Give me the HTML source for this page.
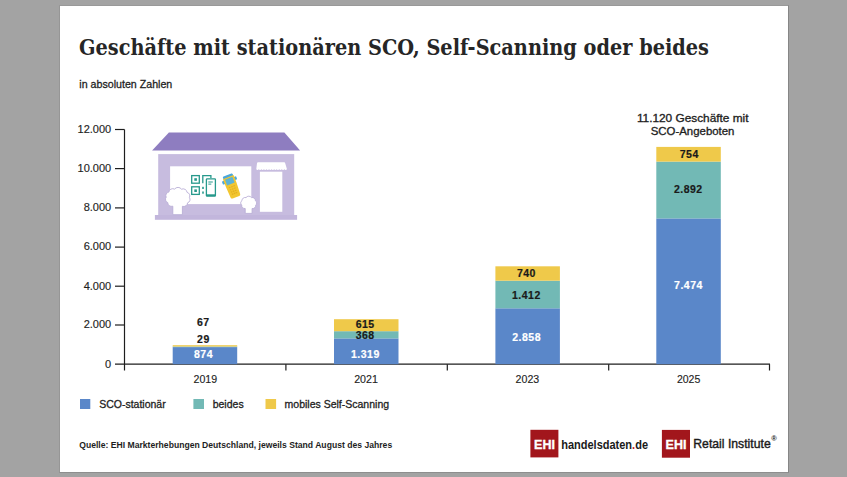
<!DOCTYPE html>
<html lang="de">
<head>
<meta charset="utf-8">
<title>Geschäfte mit stationären SCO, Self-Scanning oder beides</title>
<style>
html,body{margin:0;padding:0;background:#a3a3a3;}
body{width:847px;height:477px;overflow:hidden;background:#a3a3a3;position:relative;}
#panel{position:absolute;left:59px;top:5px;width:728px;height:466px;background:#fff;border:1px solid #868686;border-top-color:#999;border-left-color:#969696;border-bottom-color:#8e8e8e;}
svg{position:absolute;left:0;top:0;}
.sans{font-family:"Liberation Sans",Arial,sans-serif;}
.serif{font-family:"DejaVu Serif","Liberation Serif",serif;}
</style>
</head>
<body>
<div id="panel"></div>
<svg width="847" height="477" viewBox="0 0 847 477">
  <!-- Title -->
  <text class="serif" x="79" y="54.6" font-size="21.5" font-weight="bold" fill="#262626" textLength="630" lengthAdjust="spacingAndGlyphs">Geschäfte mit stationären SCO, Self-Scanning oder beides</text>
  <text class="sans" x="79.3" y="88.4" font-size="11.5" fill="#1e1e1e" stroke="#1e1e1e" stroke-width="0.3" textLength="93" lengthAdjust="spacingAndGlyphs">in absoluten Zahlen</text>

  <!-- House illustration -->
  <g id="house">
    <polygon points="168.9,132.5 284.4,132.5 300.1,150.4 152.1,150.4" fill="#8e7dc0"/>
    <rect x="158.2" y="154.1" width="136" height="62" fill="#c7bcdf"/>
    <rect x="154.9" y="215" width="142.2" height="4.8" fill="#c2b6dc"/>
    <rect x="170.1" y="166.3" width="81.2" height="37.8" fill="#ffffff"/>
    <!-- door + awning -->
    <rect x="259.9" y="171.7" width="22.4" height="40.1" fill="#ffffff"/>
    <path d="M258,162.2 L284.2,162.2 Q285,162.3 285.2,163.2 L286.9,169 A1.3,1.3 0 0 1 284.35,169 A1.3,1.3 0 0 1 281.80,169 A1.3,1.3 0 0 1 279.25,169 A1.3,1.3 0 0 1 276.70,169 A1.3,1.3 0 0 1 274.15,169 A1.3,1.3 0 0 1 271.60,169 A1.3,1.3 0 0 1 269.05,169 A1.3,1.3 0 0 1 266.50,169 A1.3,1.3 0 0 1 263.95,169 A1.3,1.3 0 0 1 261.40,169 A1.3,1.3 0 0 1 258.85,169 A1.3,1.3 0 0 1 256.30,169 L257,163.2 Q257.2,162.3 258,162.2 Z" fill="#ffffff"/>
    <!-- bushes -->
    <g fill="#ffffff" stroke="#b9aed6" stroke-width="0.9" stroke-linejoin="round">
      <path d="M182.4,214.7 L182.4,206.3 A3.92,3.92 0 0 0 187.6,202.8 A3.45,3.45 0 0 0 189.4,197.5 A3.50,3.50 0 0 0 187.1,192.4 A4.00,4.00 0 0 0 181.5,189.2 A4.27,4.27 0 0 0 174.6,189.1 A4.03,4.03 0 0 0 168.8,192.1 A3.53,3.53 0 0 0 166.2,197.2 A3.44,3.44 0 0 0 167.7,202.5 A3.89,3.89 0 0 0 172.8,206.2 L172.8,214.7 Z"/>
      <path d="M252.1,213.4 L252.1,208.5 A3.05,3.05 0 0 0 255.7,205.2 A2.76,2.76 0 0 0 255.4,200.7 A3.11,3.11 0 0 0 251.5,197.6 A3.40,3.40 0 0 0 246.0,197.6 A3.12,3.12 0 0 0 242.0,200.6 A2.76,2.76 0 0 0 241.7,205.1 A3.04,3.04 0 0 0 245.2,208.5 L245.2,213.4 Z"/>
    </g>
    <!-- QR icon -->
    <g fill="none" stroke="#27998c" stroke-width="1.3">
      <rect x="191.7" y="175.6" width="7.6" height="7.6"/>
      <rect x="191.7" y="186.8" width="7.6" height="7.6"/>
      <path d="M202.8,183.2 L202.8,175.6 L210.9,175.6 L210.9,178"/>
      <rect x="206.4" y="178.8" width="9" height="17.3" rx="0.7" fill="#fff"/>
    </g>
    <g fill="#27998c">
      <rect x="194.3" y="178.2" width="2.6" height="2.6"/>
      <rect x="194.3" y="189.4" width="2.6" height="2.6"/>
      <rect x="202.2" y="186.8" width="1.6" height="2.2"/>
      <rect x="202.2" y="191.5" width="1.6" height="2.2"/>
      <rect x="208.3" y="181.5" width="4.5" height="1"/>
      <rect x="208.3" y="183.6" width="3" height="1"/>
      <rect x="206.4" y="194.3" width="9" height="1.8"/>
    </g>
    <!-- handheld scanner -->
    <g transform="translate(231.7,186.1) rotate(-21)">
      <rect x="-7.6" y="-7.8" width="15.2" height="3.4" rx="0.8" fill="#4aa6dc"/>
      <rect x="-5.2" y="-11.9" width="10.4" height="3" rx="1" fill="#4aa6dc"/>
      <path d="M-5.7,-9.6 L5.7,-9.6 L5.7,-1 L5.1,10.4 Q5,11.9 3.5,11.9 L-3.5,11.9 Q-5,11.9 -5.1,10.4 L-5.7,-1 Z" fill="#f2c630"/>
      <rect x="-4" y="-8.4" width="8" height="6.2" fill="#5fb3d3"/>
      <g fill="#e3b021">
        <rect x="-3.2" y="0" width="1.6" height="1.2"/><rect x="-0.8" y="0" width="1.6" height="1.2"/><rect x="1.6" y="0" width="1.6" height="1.2"/>
        <rect x="-3.1" y="2.4" width="1.6" height="1.2"/><rect x="-0.8" y="2.4" width="1.6" height="1.2"/><rect x="1.5" y="2.4" width="1.6" height="1.2"/>
        <rect x="-3" y="4.8" width="1.6" height="1.2"/><rect x="-0.8" y="4.8" width="1.6" height="1.2"/><rect x="1.4" y="4.8" width="1.6" height="1.2"/>
        <rect x="-2.9" y="7.2" width="1.6" height="1.2"/><rect x="-0.8" y="7.2" width="1.6" height="1.2"/><rect x="1.3" y="7.2" width="1.6" height="1.2"/>
      </g>
    </g>
  </g>

  <!-- Axes -->
  <g stroke="#1e1e1e" stroke-width="1.2" fill="none">
    <line x1="124.5" y1="129.5" x2="124.5" y2="370.5"/>
    <line x1="115" y1="364.2" x2="770" y2="364.2"/>
    <line x1="115" y1="129.5" x2="124.5" y2="129.5"/>
    <line x1="115" y1="168.6" x2="124.5" y2="168.6"/>
    <line x1="115" y1="207.9" x2="124.5" y2="207.9"/>
    <line x1="115" y1="247.1" x2="124.5" y2="247.1"/>
    <line x1="115" y1="286.2" x2="124.5" y2="286.2"/>
    <line x1="115" y1="325.0" x2="124.5" y2="325.0"/>
    <line x1="285.9" y1="364.2" x2="285.9" y2="370.5"/>
    <line x1="447.3" y1="364.2" x2="447.3" y2="370.5"/>
    <line x1="608.7" y1="364.2" x2="608.7" y2="370.5"/>
    <line x1="769.5" y1="364.2" x2="769.5" y2="370.5"/>
  </g>
  <g class="sans" font-size="11" fill="#1e1e1e" stroke="#1e1e1e" stroke-width="0.15" text-anchor="end">
    <text x="111.2" y="132.9">12.000</text>
    <text x="111.2" y="172.0">10.000</text>
    <text x="111.2" y="211.1">8.000</text>
    <text x="111.2" y="250.4">6.000</text>
    <text x="111.2" y="289.5">4.000</text>
    <text x="111.2" y="328.4">2.000</text>
    <text x="111.2" y="367.6">0</text>
  </g>

  <!-- Bars -->
  <g>
    <rect x="172.7" y="347.1" width="64.5" height="17.1" fill="#5a87c9"/>
    <rect x="172.7" y="346.5" width="64.5" height="0.6" fill="#72b9b5"/>
    <rect x="172.7" y="345.2" width="64.5" height="1.3" fill="#efc94a"/>

    <rect x="334" y="338.4" width="64.5" height="25.8" fill="#5a87c9"/>
    <rect x="334" y="331.2" width="64.5" height="7.2" fill="#72b9b5"/>
    <rect x="334" y="319.2" width="64.5" height="12" fill="#efc94a"/>

    <rect x="495.4" y="308.3" width="64.5" height="55.9" fill="#5a87c9"/>
    <rect x="495.4" y="280.7" width="64.5" height="27.6" fill="#72b9b5"/>
    <rect x="495.4" y="266.3" width="64.5" height="14.4" fill="#efc94a"/>

    <rect x="656.3" y="218.4" width="64.5" height="145.8" fill="#5a87c9"/>
    <rect x="656.3" y="161.6" width="64.5" height="56.8" fill="#72b9b5"/>
    <rect x="656.3" y="146.9" width="64.5" height="14.7" fill="#efc94a"/>
  </g>
  <g class="sans" font-size="10.5" font-weight="bold" letter-spacing="0.5" text-anchor="middle" fill="#1a1a1a" stroke="#1a1a1a" stroke-width="0.2">
    <text x="203.3" y="326.1">67</text>
    <text x="203.4" y="342.7">29</text>
    <text x="203.5" y="358.4" fill="#fff" stroke="#fff">874</text>

    <text x="365.2" y="328.2">615</text>
    <text x="365.2" y="339.2">368</text>
    <text x="365.4" y="358.4" fill="#fff" stroke="#fff">1.319</text>

    <text x="526.4" y="277.3">740</text>
    <text x="526.4" y="299.3">1.412</text>
    <text x="526.6" y="340.9" fill="#fff" stroke="#fff">2.858</text>

    <text x="689.3" y="157.7">754</text>
    <text x="688.3" y="192.8">2.892</text>
    <text x="688.5" y="288.6" fill="#fff" stroke="#fff">7.474</text>
  </g>
  <g class="sans" font-size="10" text-anchor="middle" fill="#1e1e1e" stroke="#1e1e1e" stroke-width="0.3">
    <text x="692.7" y="121.6" textLength="111.6" lengthAdjust="spacingAndGlyphs">11.120 Geschäfte mit</text>
    <text x="692.6" y="134.9" textLength="83.7" lengthAdjust="spacingAndGlyphs">SCO-Angeboten</text>
  </g>
  <g class="sans" font-size="11.3" text-anchor="middle" fill="#1e1e1e" stroke="#1e1e1e" stroke-width="0.15">
    <text x="205.3" y="383.2" textLength="23.6" lengthAdjust="spacingAndGlyphs">2019</text>
    <text x="366" y="383.3" textLength="23.7" lengthAdjust="spacingAndGlyphs">2021</text>
    <text x="527.4" y="383.3" textLength="23.6" lengthAdjust="spacingAndGlyphs">2023</text>
    <text x="688.6" y="383.4" textLength="23.4" lengthAdjust="spacingAndGlyphs">2025</text>
  </g>

  <!-- Legend -->
  <rect x="80" y="399" width="10.3" height="10" fill="#5a87c9"/>
  <rect x="193.4" y="399" width="10.6" height="10" fill="#72b9b5"/>
  <rect x="265.5" y="399" width="10.6" height="10" fill="#efc94a"/>
  <g class="sans" font-size="10.5" fill="#1e1e1e" stroke="#1e1e1e" stroke-width="0.3">
    <text x="99.2" y="407.8">SCO-stationär</text>
    <text x="212.7" y="407.8">beides</text>
    <text x="284.6" y="407.8">mobiles Self-Scanning</text>
  </g>

  <!-- Source -->
  <text class="sans" x="79.2" y="447.6" font-size="8.4" font-weight="bold" fill="#1e1e1e" textLength="313" lengthAdjust="spacingAndGlyphs">Quelle: EHI Markterhebungen Deutschland, jeweils Stand August des Jahres</text>

  <!-- Logos -->
  <rect x="530.4" y="429.8" width="28" height="27.6" fill="#a2161c"/>
  <text class="sans" x="544.5" y="448.7" font-size="12.5" font-weight="bold" fill="#fff" stroke="#fff" stroke-width="0.35" text-anchor="middle">EHI</text>
  <text class="sans" x="561.2" y="448.7" font-size="13" font-weight="bold" fill="#1a1a1a" textLength="86.8" lengthAdjust="spacingAndGlyphs">handelsdaten<tspan fill="#c0202a">.</tspan>de</text>

  <rect x="661.9" y="429.9" width="28.1" height="27.8" fill="#a2161c"/>
  <text class="sans" x="676" y="448.6" font-size="12.5" font-weight="bold" fill="#fff" stroke="#fff" stroke-width="0.35" text-anchor="middle">EHI</text>
  <text class="sans" x="693.3" y="448.4" font-size="13" fill="#1a1a1a" stroke="#1a1a1a" stroke-width="0.4" textLength="77.4" lengthAdjust="spacingAndGlyphs">Retail Institute</text>
  <text class="sans" x="771.2" y="440.6" font-size="7.5" font-weight="bold" fill="#1a1a1a">®</text>
</svg>
</body>
</html>
